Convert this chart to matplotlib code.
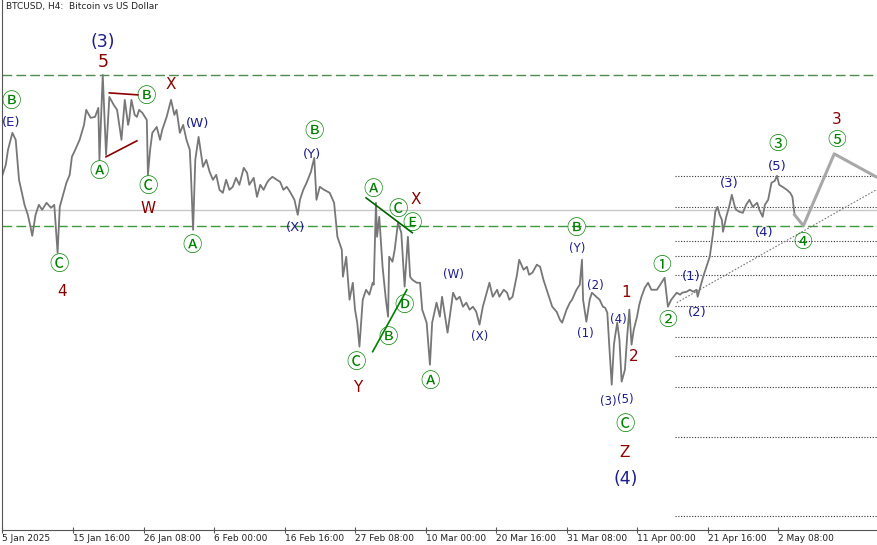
import matplotlib
matplotlib.use('Agg')
import matplotlib.pyplot as plt

# BTCUSD H4, x = number of 4h bars since 5 Jan 2025 00:00, price in thousand USD
bars = [0, 3, 5, 9, 12, 15, 17, 20, 23, 25, 27, 30, 33, 36, 40, 44, 47, 50, 52, 55,
        58, 61, 63, 66, 70, 74, 76, 80, 84, 87, 88, 91, 94, 97, 101, 104, 108, 111, 114, 115,
        117, 120, 122, 124, 127, 131, 132, 134, 136, 140, 143, 145, 149, 153, 156, 158, 161, 164, 167, 170,
        171, 173, 175, 178, 182, 185, 188, 191, 194, 197, 200, 203, 206, 209, 212, 215, 219, 222, 224, 228,
        231, 234, 237, 240, 242, 245, 249, 252, 255, 258, 261, 265, 268, 270, 273, 276, 280, 281, 283, 285,
        288, 292, 297, 301, 304, 308, 309, 312, 315, 318, 320, 322, 324, 327, 330, 333, 336, 337, 339, 340,
        342, 345, 348, 350, 351, 354, 356, 359, 362, 365, 368, 370, 372, 376, 379, 381, 385, 388, 390, 394,
        397, 399, 404, 409, 412, 415, 418, 421, 424, 427, 430, 433, 436, 439, 442, 445, 449, 451, 455, 458,
        460, 463, 467, 469, 473, 476, 478, 481, 485, 488, 491, 494, 497, 499, 503, 506, 508, 512, 515, 517,
        521, 524, 526, 527, 530, 533, 535, 537, 539, 542, 545, 547, 549, 551, 553, 555, 556, 558, 560, 562,
        565, 567, 569, 571, 573, 576, 578, 580, 583, 586, 589, 594, 597, 601, 604, 607, 612, 615, 617, 621,
        624, 627, 630, 631, 634, 636, 639, 642, 645, 647, 649, 651, 653, 654, 657, 660, 662, 665, 666, 669,
        672, 675, 678, 681, 685, 687, 690, 692, 695, 698, 701, 703, 705, 708, 712, 715, 717, 719]
price = [97.87, 98.99, 100.66, 102.55, 101.77, 97.32, 96.20, 94.53, 93.42, 92.31, 91.08, 93.42, 94.53, 93.98, 94.76, 94.20, 94.53, 89.19, 94.31, 95.65,
         96.98, 97.87, 99.88, 100.66, 101.77, 103.44, 105.11, 104.22, 104.33, 105.33, 99.54, 109.00, 100.10, 106.55, 105.66, 105.11, 101.77, 106.22, 103.44, 103.99,
         106.22, 104.55, 104.33, 105.11, 104.77, 103.99, 97.87, 100.66, 102.55, 103.21, 101.77, 102.88, 104.33, 106.22, 104.55, 105.11, 102.55, 103.44, 101.77, 100.66,
         98.10, 91.75, 99.54, 102.10, 98.76, 99.54, 98.21, 97.32, 97.87, 96.20, 95.87, 97.32, 96.20, 96.54, 97.54, 96.76, 98.65, 98.10, 96.76, 97.54,
         95.42, 96.76, 96.20, 96.98, 97.32, 97.65, 97.32, 97.09, 96.20, 96.54, 95.98, 95.09, 93.42, 95.09, 96.20, 96.98, 98.21, 98.76, 99.76, 95.09,
         96.54, 96.20, 95.87, 94.76, 90.97, 89.52, 86.52, 88.75, 83.96, 85.85, 82.85, 81.40, 78.73, 83.96, 85.07, 84.52, 85.85, 85.63, 94.76, 90.97,
         93.20, 87.63, 83.96, 82.07, 88.75, 88.19, 89.52, 92.53, 91.42, 85.41, 90.97, 86.52, 86.19, 85.85, 85.85, 82.85, 81.40, 76.72, 81.40, 83.63,
         82.07, 84.29, 80.29, 84.74, 83.96, 84.29, 83.18, 83.63, 82.85, 83.18, 82.62, 81.18, 83.18, 84.52, 85.85, 84.29, 85.07, 84.29, 85.07, 84.74,
         83.96, 84.29, 86.74, 88.41, 87.30, 87.63, 86.74, 86.97, 87.86, 87.63, 86.19, 85.07, 83.96, 83.18, 82.62, 81.73, 81.40, 82.85, 83.63, 83.96,
         85.07, 85.63, 88.41, 83.96, 81.51, 83.96, 84.74, 84.52, 84.29, 83.96, 83.18, 83.07, 82.51, 78.40, 74.50, 78.95, 79.84, 81.40, 79.51, 74.83,
         76.17, 79.84, 82.85, 78.95, 80.62, 82.07, 83.40, 84.29, 85.29, 85.85, 85.07, 85.07, 85.63, 86.41, 83.18, 83.96, 84.74, 84.52, 84.74, 84.85,
         85.07, 84.85, 85.07, 84.29, 85.63, 86.52, 87.63, 88.75, 91.42, 93.75, 94.31, 93.42, 92.86, 91.53, 93.20, 94.53, 95.65, 94.20, 93.98, 93.75,
         93.64, 94.53, 95.09, 94.31, 94.76, 93.98, 93.20, 94.53, 95.09, 96.98, 97.20, 97.76, 96.76, 96.54, 96.20, 95.87, 95.42, 93.42]

# projected path  ->  (4) -> (5) -> down
proj_bars = [719, 727, 755, 793]
proj_price = [93.42, 92.20, 100.21, 97.65]

# horizontal levels
top_level = 109.00
grey_level = 93.98
green_level = 92.20
dotted_levels = [97.76, 94.31, 90.53, 88.86, 86.74, 83.29, 79.84, 77.73, 74.28, 68.71, 59.81]
dotted_start = 610

# trend line under the rally
trend_bars = [612, 793]
trend_price = [83.63, 96.20]

tick_bars = [0, 64, 128, 192, 256, 320, 384, 448, 512, 576, 640, 704]
tick_labels = ['5 Jan 2025', '15 Jan 16:00', '26 Jan 08:00', '6 Feb 00:00', '16 Feb 16:00',
               '27 Feb 08:00', '10 Mar 00:00', '20 Mar 16:00', '31 Mar 08:00', '11 Apr 00:00',
               '21 Apr 16:00', '2 May 08:00']

# wave labels: text, bar, price, style
labels = [
    ('(3)', 91, 112.68, 'nb'), ('5', 91, 110.45, 'rb'),
    ('Ⓑ', 8, 106.0, 'g'), ('(E)', 8, 103.66, 'n'),
    ('Ⓑ', 130, 106.55, 'g'), ('X', 153, 107.89, 'r'), ('(W)', 177, 103.55, 'n'),
    ('Ⓐ', 88, 98.21, 'g'), ('Ⓒ', 132, 96.54, 'g'), ('W', 132, 94.09, 'r'),
    ('Ⓐ', 172, 89.97, 'g'), ('Ⓒ', 51, 87.86, 'g'), ('4', 54, 84.85, 'r'),
    ('Ⓑ', 283, 102.66, 'g'), ('(Y)', 281, 100.10, 'n'), ('(X)', 266, 91.97, 'n'),
    ('Ⓐ', 336, 96.20, 'g'), ('Ⓒ', 359, 93.98, 'g'), ('X', 375, 95.09, 'r'), ('Ⓔ', 372, 92.42, 'g'),
    ('Ⓓ', 365, 83.29, 'g'), ('Ⓑ', 350, 79.73, 'g'), ('Ⓒ', 321, 76.95, 'g'), ('Y', 322, 74.17, 'r'),
    ('Ⓐ', 388, 74.83, 'g'), ('(W)', 409, 86.74, 'ns'), ('(X)', 433, 79.84, 'ns'),
    ('Ⓑ', 521, 91.86, 'g'), ('(Y)', 522, 89.64, 'ns'), ('(2)', 538, 85.52, 'ns'), ('(1)', 529, 80.18, 'ns'),
    ('1', 566, 84.74, 'r'), ('(4)', 559, 81.73, 'ns'), ('2', 573, 77.62, 'r'),
    ('(3)', 550, 72.61, 'ns'), ('(5)', 565, 72.83, 'ns'), ('Ⓒ', 565, 70.05, 'g'),
    ('Z', 565, 66.93, 'r'), ('(4)', 566, 64.04, 'nb'),
    ('①', 598, 87.74, 'gs'), ('②', 604, 81.62, 'gs'), ('(1)', 625, 86.52, 'n'), ('(2)', 631, 82.51, 'n'),
    ('(3)', 660, 96.87, 'n'), ('(4)', 691, 91.42, 'n'), ('③', 704, 101.21, 'gs'), ('(5)', 703, 98.76, 'n'),
    ('④', 726, 90.30, 'gs'), ('3', 757, 103.99, 'r'), ('⑤', 757, 101.66, 'gs'),
]
styles = {
    'n': ('#1c1c8c', 9.5), 'ns': ('#1c1c8c', 8.5), 'nb': ('#1c1c8c', 12.5),
    'r': ('#8b0000', 11), 'rb': ('#8b0000', 12.5),
    'g': ('#008000', 14), 'gs': ('#008000', 13.5),
}
circle_fonts = ['Noto Sans CJK JP', 'DejaVu Sans']

fig = plt.figure(figsize=(8.77, 5.45), dpi=100)
ax = fig.add_axes([2 / 877, 15.5 / 545, 875 / 877, 529.5 / 545])

ax.axhline(top_level, color='#4f8a4f', lw=1, dashes=(7, 3))
ax.axhline(grey_level, color='#c8c8c8', lw=1)
ax.axhline(green_level, color='#3c9a3c', lw=1, dashes=(7, 3))
for lev in dotted_levels:
    ax.plot([dotted_start, 800], [lev, lev], color='#333333', lw=0.8, dashes=(1, 1.5))
ax.plot(trend_bars, trend_price, color='#777777', lw=0.8, dashes=(1.5, 1.5))

ax.plot(bars, price, color='#777777', lw=1.3)
ax.plot(proj_bars, proj_price, color='#a8a8a8', lw=2.2)

# triangle lines
ax.plot([97, 123], [107.0, 106.78], color='#8b0000', lw=1.2)
ax.plot([94, 122], [99.88, 101.66], color='#8b0000', lw=1.2)
ax.plot([330, 372], [95.31, 91.42], color='#006400', lw=1.2)
ax.plot([336, 367], [78.17, 85.07], color='#008000', lw=1.2)

for txt, b, p, st in labels:
    c, fs = styles[st]
    if st.startswith('g'):
        ax.text(b, p, txt, color=c, fontsize=fs, ha='center', va='center', family=circle_fonts)
    else:
        ax.text(b, p, txt, color=c, fontsize=fs, ha='center', va='center')

ax.text(0.004, 0.988, 'BTCUSD, H4:  Bitcoin vs US Dollar', transform=ax.transAxes,
        fontsize=6.5, color='#222222', ha='left', va='center')

ax.set_xlim(-0.45, 793.8)
ax.set_ylim(117.35 - 0.1113 * 530, 117.35)
ax.set_xticks(tick_bars)
ax.set_xticklabels(tick_labels, fontsize=6.5, color='#222222')
for lab in ax.get_xticklabels():
    lab.set_ha('left')
ax.tick_params(axis='x', direction='inout', length=4, width=0.8, color='#555555', pad=1)
ax.set_yticks([])
ax.spines['top'].set_visible(False)
ax.spines['right'].set_visible(False)
ax.spines['left'].set_color('#555555')
ax.spines['bottom'].set_color('#555555')

fig.savefig('out.png', dpi=100)
